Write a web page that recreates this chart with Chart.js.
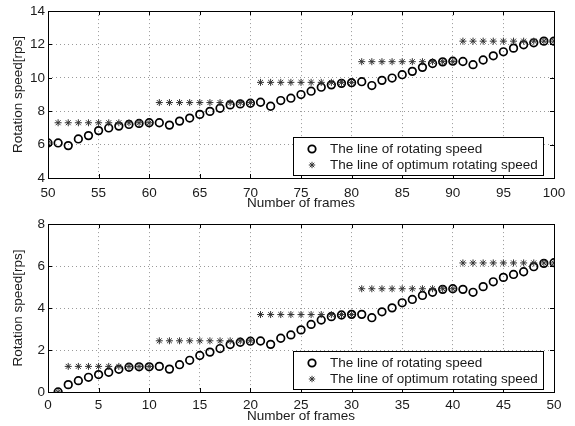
<!DOCTYPE html>
<html>
<head>
<meta charset="utf-8">
<script src="https://cdn.jsdelivr.net/npm/chart.js@4.4.1/dist/chart.umd.min.js"></script>
<style>
  body { margin: 0; background: #fff; }
  #wrap { position: relative; width: 575px; height: 426px; }
  canvas { position: absolute; left: 0; }
</style>
</head>
<body>
<div id="wrap">
  <canvas id="chartTop" width="575" height="213" style="top:0"></canvas>
  <canvas id="chartBottom" width="575" height="213" style="top:213px"></canvas>
</div>
<script>
// --- data ---
const framesTop = [50, 51, 52, 53, 54, 55, 56, 57, 58, 59, 60, 61, 62, 63, 64, 65, 66, 67, 68, 69, 70,
  71, 72, 73, 74, 75, 76, 77, 78, 79, 80, 81, 82, 83, 84, 85, 86, 87, 88, 89, 90,
  91, 92, 93, 94, 95, 96, 97, 98, 99, 100];
const speedTop = [6.1, 6.1, 5.94, 6.34, 6.54, 6.84, 7.0, 7.11, 7.21, 7.27, 7.31,
  7.31, 7.17, 7.41, 7.59, 7.81, 7.99, 8.18, 8.38, 8.44, 8.48,
  8.54, 8.3, 8.64, 8.78, 9.0, 9.2, 9.44, 9.58, 9.67, 9.71,
  9.77, 9.54, 9.85, 9.99, 10.19, 10.39, 10.63, 10.86, 10.96, 11.0,
  10.98, 10.79, 11.07, 11.32, 11.56, 11.78, 11.98, 12.1, 12.2, 12.2];
const optimumTop = [6.1, 7.31, 7.31, 7.31, 7.31, 7.31, 7.31, 7.31, 7.31, 7.31, 7.31,
  8.52, 8.52, 8.52, 8.52, 8.52, 8.52, 8.52, 8.52, 8.52, 8.52,
  9.73, 9.73, 9.73, 9.73, 9.73, 9.73, 9.73, 9.73, 9.73, 9.73,
  10.97, 10.97, 10.97, 10.97, 10.97, 10.97, 10.97, 10.97, 10.97, 10.97,
  12.2, 12.2, 12.2, 12.2, 12.2, 12.2, 12.2, 12.2, 12.2, 12.2];

const framesBottom = [1, 2, 3, 4, 5, 6, 7, 8, 9, 10, 11, 12, 13, 14, 15, 16, 17, 18, 19, 20,
  21, 22, 23, 24, 25, 26, 27, 28, 29, 30, 31, 32, 33, 34, 35, 36, 37, 38, 39, 40,
  41, 42, 43, 44, 45, 46, 47, 48, 49, 50];
const speedBottom = [0.0, 0.35, 0.54, 0.7, 0.83, 0.94, 1.08, 1.18, 1.2, 1.2,
  1.22, 1.09, 1.3, 1.51, 1.74, 1.9, 2.07, 2.26, 2.37, 2.42,
  2.43, 2.27, 2.56, 2.72, 2.96, 3.22, 3.43, 3.59, 3.67, 3.7,
  3.7, 3.54, 3.82, 4.01, 4.25, 4.41, 4.6, 4.75, 4.89, 4.92,
  4.89, 4.75, 5.02, 5.25, 5.46, 5.6, 5.73, 5.97, 6.13, 6.16];
const optimumBottom = [0, 1.22, 1.22, 1.22, 1.22, 1.22, 1.22, 1.22, 1.22, 1.22,
  2.44, 2.44, 2.44, 2.44, 2.44, 2.44, 2.44, 2.44, 2.44, 2.44,
  3.69, 3.69, 3.69, 3.69, 3.69, 3.69, 3.69, 3.69, 3.69, 3.69,
  4.92, 4.92, 4.92, 4.92, 4.92, 4.92, 4.92, 4.92, 4.92, 4.92,
  6.15, 6.15, 6.15, 6.15, 6.15, 6.15, 6.15, 6.15, 6.15, 6.15];

const legendLabels = ['The line of rotating speed', 'The line of optimum rotating speed'];
const xTitle = 'Number of frames';
const yTitle = 'Rotation speed[rps]';

const FONT = "'Liberation Sans', Arial, Helvetica, sans-serif";
const TXT = '#1a1a1a';

function drawCircle(ctx, x, y, r) {
  ctx.beginPath();
  ctx.arc(x, y, r, 0, Math.PI * 2);
  ctx.stroke();
}
function drawStar(ctx, x, y, r) {
  const d = Math.cos(Math.PI / 4) * r;
  ctx.beginPath();
  ctx.moveTo(x - r, y); ctx.lineTo(x + r, y);
  ctx.moveTo(x, y - r); ctx.lineTo(x, y + r);
  ctx.moveTo(x - d, y - d); ctx.lineTo(x + d, y + d);
  ctx.moveTo(x - d, y + d); ctx.lineTo(x + d, y - d);
  ctx.stroke();
}

// MATLAB-like frame, inward ticks and boxed legend
const matlabBox = {
  id: 'matlabBox',
  afterDraw(chart) {
    const { ctx, chartArea: a, scales: { x, y } } = chart;
    ctx.save();
    ctx.strokeStyle = '#000';
    ctx.lineWidth = 1;
    ctx.beginPath();
    x.ticks.forEach(t => {
      const px = Math.round(x.getPixelForValue(t.value)) + 0.5;
      ctx.moveTo(px, a.bottom); ctx.lineTo(px, a.bottom - 4);
      ctx.moveTo(px, a.top); ctx.lineTo(px, a.top + 4);
    });
    y.ticks.forEach(t => {
      const py = Math.round(y.getPixelForValue(t.value)) + 0.5;
      ctx.moveTo(a.left, py); ctx.lineTo(a.left + 4, py);
      ctx.moveTo(a.right, py); ctx.lineTo(a.right - 4, py);
    });
    ctx.stroke();
    ctx.strokeRect(Math.round(a.left) + 0.5, Math.round(a.top) + 0.5,
      Math.round(a.right - a.left), Math.round(a.bottom - a.top));

    // legend
    const w = 250, h = 38;
    const lx = Math.round(a.right - 11 - w), ly = Math.round(a.bottom - 3 - h);
    ctx.fillStyle = '#fff';
    ctx.fillRect(lx, ly, w, h);
    ctx.strokeRect(lx + 0.5, ly + 0.5, w, h);
    ctx.font = '13.5px ' + FONT;
    ctx.fillStyle = TXT;
    ctx.textBaseline = 'middle';
    ctx.textAlign = 'left';
    ctx.lineWidth = 1.8;
    ctx.strokeStyle = '#000';
    drawCircle(ctx, lx + 19, ly + 12, 3.7);
    ctx.fillText(legendLabels[0], lx + 37, ly + 12);
    ctx.lineWidth = 1;
    ctx.strokeStyle = '#333';
    drawStar(ctx, lx + 19, ly + 28, 3.2);
    ctx.fillText(legendLabels[1], lx + 37, ly + 28);
    ctx.restore();
  }
};

function makeChart(id, frames, speed, optimum, xr, yr, pad) {
  const pts = (vals) => frames.map((f, i) => ({ x: f, y: vals[i] }));
  return new Chart(document.getElementById(id), {
    type: 'scatter',
    data: {
      datasets: [
        {
          label: legendLabels[1],
          data: pts(optimum),
          pointStyle: 'star',
          pointRadius: 3.5,
          borderColor: '#333',
          backgroundColor: '#333',
          pointBorderWidth: 1,
          order: 0
        },
        {
          label: legendLabels[0],
          data: pts(speed),
          pointStyle: 'circle',
          pointRadius: 3.8,
          borderColor: '#000',
          backgroundColor: 'rgba(0,0,0,0)',
          pointBorderWidth: 1.7,
          order: 1
        }
      ]
    },
    options: {
      responsive: false,
      animation: false,
      layout: { padding: { left: 0, right: 21, top: pad.top, bottom: 0 } },
      plugins: { legend: { display: false }, tooltip: { enabled: false } },
      scales: {
        x: {
          type: 'linear',
          min: xr[0], max: xr[1],
          ticks: { stepSize: 5, color: TXT, font: { family: FONT, size: 13.5 }, padding: pad.xTick, maxRotation: 0 },
          grid: { color: '#9a9a9a', lineWidth: 1, drawTicks: false },
          border: { display: false, dash: [1, 3] },
          title: { display: true, text: xTitle, color: TXT, font: { family: FONT, size: 13.5 }, padding: { top: 0, bottom: 2 } },
          afterFit: (s) => { s.height = pad.xHeight; }
        },
        y: {
          min: yr[0], max: yr[1],
          ticks: { stepSize: 2, color: TXT, font: { family: FONT, size: 13.5 }, padding: 3 },
          grid: { color: '#9a9a9a', lineWidth: 1, drawTicks: false },
          border: { display: false, dash: [1, 3] },
          title: { display: true, text: yTitle, color: TXT, font: { family: FONT, size: 13.5 }, padding: { top: 10, bottom: 0 } },
          afterFit: (s) => { s.width = 48; }
        }
      }
    },
    plugins: [matlabBox]
  });
}

makeChart('chartTop', framesTop, speedTop, optimumTop, [50, 100], [4, 14], { top: 10, xHeight: 35, xTick: 7 });
makeChart('chartBottom', framesBottom, speedBottom, optimumBottom, [0, 50], [0, 8], { top: 11, xHeight: 34, xTick: 5 });
</script>
</body>
</html>
